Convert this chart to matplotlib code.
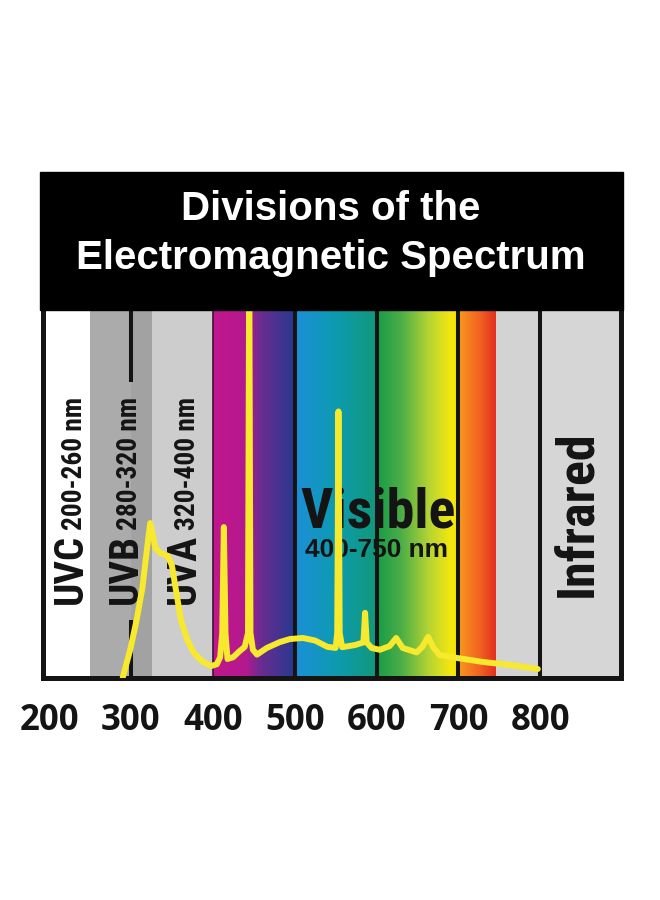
import os
import numpy as np
import matplotlib.pyplot as plt
from matplotlib import font_manager
from matplotlib.font_manager import FontProperties
from matplotlib.colors import LinearSegmentedColormap
from matplotlib.patches import Rectangle


def condensed_bold():
    # look for a narrow / condensed bold face among the installed fonts
    pref = ['Liberation Sans Narrow', 'Noto Sans', 'Roboto', 'Open Sans', 'Lato', 'Inter', 'DejaVu Sans']
    best = None
    for f in font_manager.fontManager.ttflist:
        base = os.path.basename(f.fname)
        squeezed = ('Narrow' in f.name or 'Condensed' in f.name or 'Narrow' in base
                    or 'Condensed' in base or 'condensed' in str(f.stretch))
        if not squeezed or f.style != 'normal':
            continue
        if any(k in f.name for k in ('Mono', 'Serif', 'CJK')):
            continue
        w = f.weight if isinstance(f.weight, int) else (700 if f.weight == 'bold' else 400)
        if w < 600:
            continue
        rank = next((i for i, p in enumerate(pref) if f.name.startswith(p)), len(pref))
        squeeze = 1 if ('Semi' in base or 'Extra' in base or 'Ultra' in base) else 0
        key = (rank, squeeze, abs(w - 700))
        if best is None or key < best[0]:
            best = (key, f.fname)
    if best:
        return FontProperties(fname=best[1])
    return FontProperties(family='Liberation Sans', weight='bold')


narrow = condensed_bold()
plain = FontProperties(family='Liberation Sans', weight='bold')

# ---- data -------------------------------------------------------------
title_lines = ['Divisions of the', 'Electromagnetic Spectrum']
ticks = [200, 300, 400, 500, 600, 700, 800]

# plain bands (nm) : UVC, UVB, UVB', UVA, (visible), far red, infrared
band_edges = [192, 250, 300, 326, 400, 745, 800, 898]

# colour stops of the visible strip (nm)
grad_nm = [400, 440, 458, 498, 502, 550, 598, 602, 630, 665, 690, 698, 702, 725, 745]
divider_nm = [500, 600, 700, 800]

uv_names = ['UVC', 'UVB', 'UVA']
uv_ranges = ['200-260 nm', '280-320 nm', '320-400 nm']

# lamp output curve (nm, relative height)
lamp_nm = [290, 299, 307, 314, 318, 322, 323.5, 326, 330, 336, 345, 350, 355, 361,
           369, 377, 388, 398, 405, 409, 411.5, 413.5, 415.5, 418, 425, 432, 439,
           443, 444.5, 446, 449, 454, 466, 482, 494, 510, 525, 540, 550, 552, 553.5,
           555, 558, 566, 574, 584, 586, 588, 594, 604, 616, 624, 632, 649, 656,
           663, 669, 677, 698, 730, 763, 797]
lamp_val = [0, 7.4, 15.6, 24.2, 31.8, 39.1, 41.8, 39.4, 35.0, 33.7, 32.9, 30.4, 23.7, 15.6,
            10.1, 6.6, 4.2, 3.1, 3.6, 5.5, 12, 40.7, 12, 5.0, 5.5, 7.0, 8.3,
            12, 115, 12, 7.5, 6.2, 8.0, 9.6, 10.4, 10.7, 10.0, 8.3, 8.0, 12, 72.0,
            12, 8.2, 8.5, 8.8, 9.5, 17.5, 9.5, 8.0, 7.5, 8.5, 10.7, 8.0, 6.8, 8.3,
            11.0, 8.3, 6.1, 5.3, 4.2, 3.4, 2.3]

# ---- styles -----------------------------------------------------------
band_colors = ['white', '#ababab', '#a2a2a2', '#cdcdcd', None, '#d3d3d3', '#d6d6d6']
grad_colors = ['#c2168d', '#b3198e', '#6a2c91', '#28398f', '#1b90d6', '#0d9bb0',
               '#12987c', '#1a9d48', '#4cae47', '#b9d532', '#f4e610', '#f8e400',
               '#f7951d', '#f26522', '#e4321f']
ink = '#141414'

fig = plt.figure(figsize=(6.6, 9), dpi=100)
ax = fig.add_axes([42.5 / 660, 222.5 / 900, 578 / 660, 369.5 / 900])

for x0, x1, c in zip(band_edges[:-1], band_edges[1:], band_colors):
    if c:
        ax.axvspan(x0, x1, color=c, lw=0, zorder=0)

stops = [(n - grad_nm[0]) / (grad_nm[-1] - grad_nm[0]) for n in grad_nm]
cmap = LinearSegmentedColormap.from_list('vis', list(zip(stops, grad_colors)))
ax.imshow(np.linspace(0, 1, 800)[None, :], cmap=cmap, aspect='auto',
          extent=(grad_nm[0], grad_nm[-1], 0, 100), zorder=1)

ax.axvline(400, color='#3a1434', lw=1.2, zorder=2)
for x in divider_nm:
    ax.axvline(x, color=ink, lw=2.9, zorder=2)
# the 300 nm line stops short of the UVB label
ax.axvline(300, ymin=0, ymax=0.15, color=ink, lw=2.9, zorder=2)
ax.axvline(300, ymin=0.805, ymax=1, color=ink, lw=2.9, zorder=2)

# texts with the length (px) they take up in the reference
sized = []
for x, name, rng in zip([240.4, 307.6, 378.4], uv_names, uv_ranges):
    t = ax.text(x, 20, name, rotation=90, rotation_mode='anchor', ha='left', va='baseline',
                fontproperties=narrow, fontsize=30, color=ink, zorder=3)
    sized.append((t, 70))
    t = ax.text(x, 40, rng, rotation=90, rotation_mode='anchor', ha='left', va='baseline',
                fontproperties=narrow, fontsize=21, color=ink, zorder=3)
    sized.append((t, 133))

t = ax.text(506.6, 40.7, 'Visible', ha='left', va='baseline', fontproperties=narrow,
            fontsize=42, color=ink, zorder=3)
sized.append((t, 155))
t = ax.text(512.7, 32.6, '400-750 nm', ha='left', va='baseline', fontproperties=plain,
            fontsize=18, color=ink, zorder=3)
sized.append((t, 143))
t = ax.text(864, 21.8, 'Infrared', rotation=90, rotation_mode='anchor', ha='left',
            va='baseline', fontproperties=narrow, fontsize=37, color=ink, zorder=3)
sized.append((t, 167))

ax.plot(lamp_nm, lamp_val, color='#f7e92e', lw=4.3, solid_joinstyle='round',
        solid_capstyle='round', zorder=4)

ax.set_xlim(band_edges[0], band_edges[-1])
ax.set_ylim(0, 100)
ax.set_yticks([])
ax.set_xticks(ticks, labels=[str(t) for t in ticks], fontsize=25,
              fontweight='bold', family='Open Sans', color=ink)
ax.tick_params(axis='x', length=0, pad=18)
for s in ['left', 'right', 'bottom']:
    ax.spines[s].set_linewidth(3.6)
    ax.spines[s].set_color(ink)
ax.spines['top'].set_visible(False)

# black title band
fig.add_artist(Rectangle((40 / 660, 1 - 310 / 900), 583 / 660, 138 / 900,
                         transform=fig.transFigure, color='black', zorder=1))
t1 = fig.text(331 / 660, 1 - 220 / 900, title_lines[0], ha='center', va='baseline',
              color='white', fontsize=28, fontproperties=plain)
t2 = fig.text(331 / 660, 1 - 269 / 900, title_lines[1], ha='center', va='baseline',
              color='white', fontsize=28, fontproperties=plain)

# scale the font sizes so each text spans the same length as in the reference
renderer = fig.canvas.get_renderer()
for t, length in sized:
    ext = t.get_window_extent(renderer)
    cur = ext.height if t.get_rotation() else ext.width
    t.set_fontsize(t.get_fontsize() * length / cur)
ext = t1.get_window_extent(renderer)
title_size = 28 * 300 / ext.width
t1.set_fontsize(title_size)
t2.set_fontsize(title_size)

fig.savefig('out.png', dpi=100, facecolor='white')
